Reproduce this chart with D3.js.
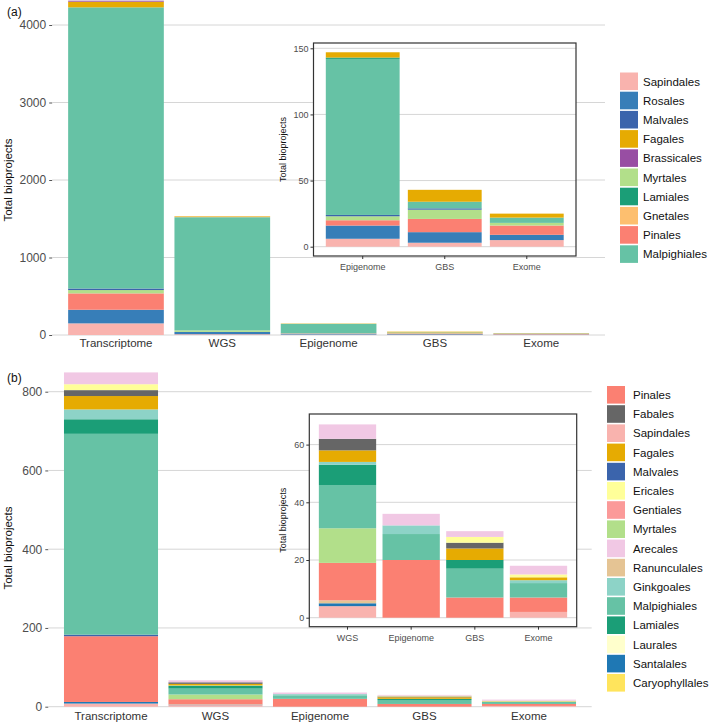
<!DOCTYPE html>
<html>
<head>
<meta charset="utf-8">
<script src="https://cdn.jsdelivr.net/npm/d3@7"></script>
<style>
  html, body { margin: 0; padding: 0; background: #fff; }
  svg { display: block; font-family: "Liberation Sans", Arial, sans-serif; }
</style>
</head>
<body>
<svg id="chart" width="709" height="726"></svg>
<script>
// ---------------- DATA: panel (a) ----------------
const categoriesA = ["Transcriptome", "WGS", "Epigenome", "GBS", "Exome"];
const insetCategoriesA = ["Epigenome", "GBS", "Exome"];
const ticksA = [0, 1000, 2000, 3000, 4000];
const insetTicksA = [0, 50, 100, 150];
const legendOrdersA = ["Sapindales", "Rosales", "Malvales", "Fagales", "Brassicales",
  "Myrtales", "Lamiales", "Gnetales", "Pinales", "Malpighiales"];
const colorsA = ["#F9B3AE", "#377EB8", "#3B64AC", "#E6AB02", "#984EA3",
  "#B2DF8A", "#1B9E77", "#FDBF6F", "#FB8072", "#66C2A5"];
const stackOrderA = ["Sapindales", "Rosales", "Pinales", "Myrtales", "Malvales",
  "Malpighiales", "Lamiales", "Gnetales", "Fagales", "Brassicales"];
// values per order: Transcriptome, WGS, Epigenome, GBS, Exome
const sapindalesA   = [150, 10, 6, 3, 5];
const rosalesA      = [176, 30, 10, 8, 4];
const malvalesA     = [20, 0, 1, 1, 0];
const fagalesA      = [73, 5, 4, 9, 3];
const brassicalesA  = [13, 0, 0, 0, 0];
const myrtalesA     = [43, 20, 3, 7, 2];
const lamialesA     = [0, 0, 1, 0, 0];
const gnetalesA     = [0, 10, 0, 0, 0];
const pinalesA      = [211, 0, 4, 10, 7];
const malpighialesA = [3628, 1460, 118, 5, 4];

// ---------------- DATA: panel (b) ----------------
const categoriesB = ["Transcriptome", "WGS", "Epigenome", "GBS", "Exome"];
const insetCategoriesB = ["WGS", "Epigenome", "GBS", "Exome"];
const ticksB = [0, 200, 400, 600, 800];
const insetTicksB = [0, 20, 40, 60];
const legendOrdersB = ["Pinales", "Fabales", "Sapindales", "Fagales", "Malvales", "Ericales",
  "Gentiales", "Myrtales", "Arecales", "Ranunculales", "Ginkgoales", "Malpighiales",
  "Lamiales", "Laurales", "Santalales", "Caryophyllales"];
const colorsB = ["#FB8072", "#666666", "#F9B3AE", "#E6AB02", "#3B64AC", "#FFFF99",
  "#FB9A99", "#B2DF8A", "#F1C8E4", "#E5C494", "#8DD3C7", "#66C2A5",
  "#1B9E77", "#FFFFCC", "#1F78B4", "#FFE45C"];
const stackOrderB = ["Sapindales", "Santalales", "Ranunculales", "Pinales", "Malvales",
  "Gentiales", "Myrtales", "Malpighiales", "Lamiales", "Laurales", "Ginkgoales",
  "Fagales", "Fabales", "Caryophyllales", "Ericales", "Arecales"];
// values per order: Transcriptome, WGS, Epigenome, GBS, Exome
const pinalesB        = [167, 13, 20, 7, 5];
const fabalesB        = [15, 4, 0, 2, 0];
const sapindalesB     = [8, 4, 0, 0, 2];
const fagalesB        = [34, 4, 0, 4, 1];
const malvalesB       = [4, 0, 0, 0, 0];
const ericalesB       = [15, 0, 0, 2, 1];
const gentialesB      = [0, 0, 0, 0, 0];
const myrtalesB       = [0, 12, 0, 0, 0];
const arecalesB       = [30, 5, 4, 2, 3];
const ranunculalesB   = [0, 1, 0, 0, 0];
const ginkgoalesB     = [25, 1, 3, 0, 1];
const malpighialesB   = [510, 15, 9, 10, 5];
const lamialesB       = [37, 7, 0, 3, 0];
const lauralesB       = [0, 0, 0, 0, 0];
const santalalesB     = [4, 1, 0, 0, 0];
const caryophyllalesB = [0, 0, 0, 0, 0];

// ---------------- build tables ----------------
function buildRows(cats, names, arrays) {
  return cats.map((c, i) => {
    const row = { category: c };
    names.forEach((n, j) => { row[n] = arrays[j][i]; });
    return row;
  });
}
const rowsA = buildRows(categoriesA, legendOrdersA,
  [sapindalesA, rosalesA, malvalesA, fagalesA, brassicalesA, myrtalesA, lamialesA, gnetalesA, pinalesA, malpighialesA]);
const rowsB = buildRows(categoriesB, legendOrdersB,
  [pinalesB, fabalesB, sapindalesB, fagalesB, malvalesB, ericalesB, gentialesB, myrtalesB, arecalesB,
   ranunculalesB, ginkgoalesB, malpighialesB, lamialesB, lauralesB, santalalesB, caryophyllalesB]);

const svg = d3.select("#chart");
const GRID = "#d6d6d6";
const TICKTXT = "#4d4d4d";
const FONT = "Liberation Sans, Arial, sans-serif";

function drawStack(g, rows, cats, stackOrder, color, x, y) {
  const sub = rows.filter(r => cats.includes(r.category));
  const series = d3.stack().keys(stackOrder)(sub);
  g.selectAll("g.layer").data(series).join("g").attr("class", "layer")
    .attr("fill", d => color(d.key))
    .selectAll("rect").data(d => d.filter(p => p[1] - p[0] > 0)).join("rect")
    .attr("x", d => x(d.data.category))
    .attr("width", x.bandwidth())
    .attr("y", d => y(d[1]))
    .attr("height", d => y(d[0]) - y(d[1]));
}

function drawPanel(cfg) {
  const color = d3.scaleOrdinal().domain(cfg.legend).range(cfg.colors);
  const g = svg.append("g");

  // ---- main panel ----
  const x = d3.scaleBand().domain(cfg.cats).range(cfg.xRange).paddingInner(0.1).paddingOuter(0.15);
  const y = d3.scaleLinear().domain([0, cfg.ticks[cfg.ticks.length - 1]]).range(cfg.yRange);

  const yAxis = d3.axisLeft(y).tickValues(cfg.ticks).tickSize(3).tickPadding(3).tickFormat(d3.format("d"));
  const ya = g.append("g").attr("transform", `translate(${cfg.xRange[0]},0)`).call(yAxis);
  ya.select(".domain").remove();
  ya.selectAll(".tick line").attr("stroke", "#555");
  ya.selectAll(".tick text").attr("fill", TICKTXT).attr("font-size", 12).attr("font-family", FONT);

  g.append("g").selectAll("line").data(cfg.ticks).join("line")
    .attr("x1", cfg.xRange[0]).attr("x2", cfg.xRange[1])
    .attr("y1", d => y(d)).attr("y2", d => y(d))
    .attr("stroke", GRID).attr("stroke-width", 1);

  drawStack(g.append("g"), cfg.rows, cfg.cats, cfg.stackOrder, color, x, y);

  const xAxis = d3.axisBottom(x).tickSize(0).tickPadding(cfg.xLabelPad);
  const xa = g.append("g").attr("transform", `translate(0,${cfg.yRange[0]})`).call(xAxis);
  xa.select(".domain").remove();
  xa.selectAll(".tick text").attr("fill", "#333").attr("font-size", 11.5).attr("font-family", FONT);

  g.append("text").attr("transform", `translate(${cfg.titleX},${cfg.titleY}) rotate(-90)`)
    .attr("text-anchor", "middle").attr("font-size", 11.5).attr("fill", "#111").text("Total bioprojects");

  g.append("text").attr("x", 7).attr("y", cfg.labelY).attr("font-size", 12).attr("fill", "#111").text(cfg.label);

  // ---- inset ----
  const ib = cfg.inset;
  const ig = g.append("g");
  ig.append("rect").attr("x", ib.x0).attr("y", ib.y0).attr("width", ib.x1 - ib.x0).attr("height", ib.y1 - ib.y0)
    .attr("fill", "#fff");
  const ix = d3.scaleBand().domain(cfg.insetCats).range([ib.x0, ib.x1]).paddingInner(0.1).paddingOuter(0.15);
  const iy = d3.scaleLinear().domain([0, ib.ticks[ib.ticks.length - 1]]).range([ib.zeroY, ib.topTickY]);
  ig.append("g").selectAll("line").data(ib.ticks).join("line")
    .attr("x1", ib.x0).attr("x2", ib.x1)
    .attr("y1", d => iy(d)).attr("y2", d => iy(d))
    .attr("stroke", GRID).attr("stroke-width", 1);
  drawStack(ig.append("g"), cfg.rows, cfg.insetCats, cfg.stackOrder, color, ix, iy);
  ig.append("rect").attr("x", ib.x0).attr("y", ib.y0).attr("width", ib.x1 - ib.x0).attr("height", ib.y1 - ib.y0)
    .attr("fill", "none").attr("stroke", "#333").attr("stroke-width", 1.2);
  const iya = ig.append("g").attr("transform", `translate(${ib.x0},0)`)
    .call(d3.axisLeft(iy).tickValues(ib.ticks).tickSize(3).tickPadding(2).tickFormat(d3.format("d")));
  iya.select(".domain").remove();
  iya.selectAll(".tick line").attr("stroke", "#333");
  iya.selectAll(".tick text").attr("fill", TICKTXT).attr("font-size", 9).attr("font-family", FONT);
  const ixa = ig.append("g").attr("transform", `translate(0,${ib.y1})`)
    .call(d3.axisBottom(ix).tickSize(3).tickPadding(5));
  ixa.select(".domain").remove();
  ixa.selectAll(".tick line").attr("stroke", "#333");
  ixa.selectAll(".tick text").attr("fill", TICKTXT).attr("font-size", 9).attr("font-family", FONT);
  ig.append("text").attr("transform", `translate(${ib.titleX},${(ib.y0 + ib.y1) / 2}) rotate(-90)`)
    .attr("text-anchor", "middle").attr("font-size", 9).attr("fill", "#111").text("Total bioprojects");

  // ---- legend ----
  const lg = g.append("g").attr("transform", `translate(${cfg.legendX},${cfg.legendY})`);
  const items = lg.selectAll("g").data(cfg.legend).join("g")
    .attr("transform", (d, i) => `translate(0,${i * 19.2})`);
  items.append("rect").attr("width", 18).attr("height", 17.6).attr("fill", d => color(d));
  items.append("text").attr("x", cfg.legendTextDx).attr("y", 13).attr("font-size", 11.5).attr("fill", "#111").text(d => d);
}

drawPanel({
  rows: rowsA, cats: categoriesA, insetCats: insetCategoriesA,
  legend: legendOrdersA, colors: colorsA, stackOrder: stackOrderA,
  ticks: ticksA, xRange: [52.2, 605], yRange: [335, 25], xLabelPad: 4,
  titleX: 12, titleY: 180, label: "(a)", labelY: 16,
  inset: { x0: 313.5, x1: 576, y0: 43, y1: 256, zeroY: 246.7, topTickY: 48.3,
           ticks: insetTicksA, titleX: 286 },
  legendX: 620, legendY: 72.5, legendTextDx: 23
});

drawPanel({
  rows: rowsB, cats: categoriesB, insetCats: insetCategoriesB,
  legend: legendOrdersB, colors: colorsB, stackOrder: stackOrderB,
  ticks: ticksB, xRange: [48.3, 591.7], yRange: [706.7, 391.7], xLabelPad: 5,
  titleX: 12, titleY: 548, label: "(b)", labelY: 382,
  inset: { x0: 309.3, x1: 576.7, y0: 414, y1: 626.7, zeroY: 617.7, topTickY: 444.6,
           ticks: insetTicksB, titleX: 286 },
  legendX: 607, legendY: 386, legendTextDx: 26
});
</script>
</body>
</html>
